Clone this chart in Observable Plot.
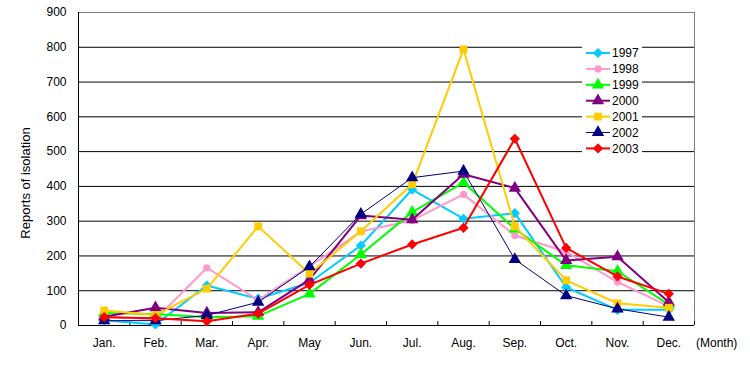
<!DOCTYPE html>
<html>
<head>
<meta charset="utf-8">
<script src="https://cdn.jsdelivr.net/npm/d3@7"></script>
<script src="https://cdn.jsdelivr.net/npm/@observablehq/plot@0.6"></script>
<style>
  body { margin: 0; background: white; }
  #wrap { position: relative; width: 750px; height: 376px; font-family: "Liberation Sans", Arial, sans-serif; }
  #wrap svg { display: block; }
  .ov { position: absolute; font-size: 12px; white-space: nowrap; color: black; }
</style>
</head>
<body>
<div id="wrap"></div>
<script>
const months = ["Jan.","Feb.","Mar.","Apr.","May","Jun.","Jul.","Aug.","Sep.","Oct.","Nov.","Dec."];
const years = ["1997","1998","1999","2000","2001","2002","2003"];
const r1997 = [15, 3, 115, 77, 123, 230, 391, 307, 323, 110, 45, 45];
const r1998 = [25, 18, 166, 73, 170, 270, 302, 377, 259, 212, 125, 55];
const r1999 = [36, 33, 24, 27, 91, 204, 326, 411, 278, 173, 156, 60];
const r2000 = [25, 51, 36, 38, 132, 316, 304, 435, 395, 187, 198, 67];
const r2001 = [43, 30, 106, 285, 149, 271, 406, 794, 285, 130, 64, 51];
const r2002 = [14, 14, 29, 67, 169, 320, 425, 444, 190, 86, 48, 24];
const r2003 = [24, 21, 12, 34, 117, 178, 233, 281, 537, 223, 141, 91];
const yTicks = [0,100,200,300,400,500,600,700,800,900];
const colors = ["#00CCFF","#FF99CC","#00FF00","#800080","#FFCC00","#000080","#FF0000"];
const symbols = ["diamond2","circle","triangle","triangle","square","triangle","diamond2"];
const widths = [2,2,2,2,2,1,2];
const sizes = [4.6,3.6,4.6,4.6,4.4,4.6,4.6];

const series = [r1997, r1998, r1999, r2000, r2001, r2002, r2003];
const data = [];
series.forEach((s, k) => s.forEach((v, i) => data.push({year: years[k], k, m: i + 1, v})));
const monthIdx = months.map((d, i) => i + 1);
const bounds = d3.range(0.5, 13, 1);

const marks = [
  Plot.ruleY(yTicks.slice(1, -1), {stroke: "black", strokeWidth: 1}),
  Plot.ruleY([yTicks[yTicks.length - 1]], {stroke: "#808080"}),
  Plot.ruleX([bounds[bounds.length - 1]], {stroke: "#808080"}),
  Plot.axisY({ticks: yTicks, tickSize: 0, tickPadding: 12, label: null, fontSize: 12}),
  Plot.axisX({ticks: bounds, tickSize: -4, tickFormat: () => "", label: null}),
  Plot.axisX({ticks: monthIdx, tickSize: 0, tickPadding: 13, tickFormat: i => months[i - 1], label: null, fontSize: 12}),
  Plot.ruleX([bounds[0]], {stroke: "black"}),
  Plot.ruleY([0], {stroke: "black"})
];
years.forEach((y, k) => {
  const d = data.filter(e => e.k === k);
  marks.push(Plot.line(d, {x: "m", y: "v", stroke: colors[k], strokeWidth: widths[k]}));
  marks.push(Plot.dot(d, {x: "m", y: "v", symbol: () => symbols[k], fill: colors[k], r: sizes[k], stroke: "none"}));
});

const chart = Plot.plot({
  width: 750, height: 376,
  marginLeft: 78, marginRight: 56, marginTop: 12, marginBottom: 51,
  x: {domain: [0.5, 12.5]},
  y: {domain: [0, 900]},
  symbol: {type: "identity"},
  style: {fontFamily: "Liberation Sans, Arial, sans-serif", fontSize: "12px", color: "black", background: "white"},
  marks
});
const wrap = document.getElementById("wrap");
wrap.appendChild(chart);

// y title
const yt = document.createElement("div");
yt.className = "ov";
yt.style.cssText = "left:25px;top:183px;transform:translate(-50%,-50%) rotate(-90deg);font-size:13px;";
yt.textContent = "Reports of isolation";
wrap.appendChild(yt);

// (Month)
const mt = document.createElement("div");
mt.className = "ov";
mt.style.cssText = "left:696px;top:336px;";
mt.textContent = "(Month)";
wrap.appendChild(mt);

// legend
const leg = d3.create("svg").attr("width", 60).attr("height", 118)
  .style("position", "absolute").style("left", "582px").style("top", "40px");
leg.append("rect").attr("width", 60).attr("height", 118).attr("fill", "white");
const symMap = {diamond2: d3.symbolDiamond2, circle: d3.symbolCircle, triangle: d3.symbolTriangle, square: d3.symbolSquare};
years.forEach((y, k) => {
  const cy = 13 + k * 15.9;
  const g = leg.append("g").attr("transform", `translate(0,${cy})`);
  g.append("line").attr("x1", 4).attr("x2", 28).attr("stroke", colors[k]).attr("stroke-width", widths[k]);
  g.append("path").attr("transform", "translate(16,0)")
    .attr("d", d3.symbol(symMap[symbols[k]], Math.PI * sizes[k] * sizes[k])()).attr("fill", colors[k]);
  g.append("text").attr("x", 30).attr("dy", "0.36em").attr("font-size", 12)
    .attr("font-family", "Liberation Sans, Arial, sans-serif").text(y);
});
wrap.appendChild(leg.node());
</script>
</body>
</html>
